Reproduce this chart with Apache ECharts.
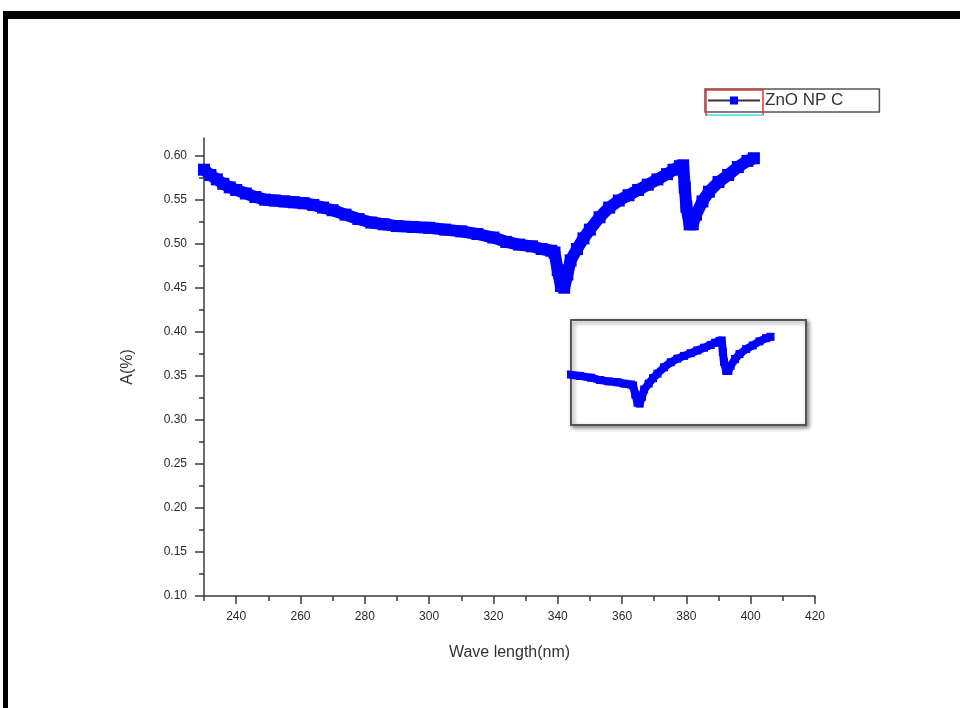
<!DOCTYPE html>
<html>
<head>
<meta charset="utf-8">
<script src="https://cdn.jsdelivr.net/npm/echarts@6/dist/echarts.min.js"></script>
<style>
  html, body { margin: 0; padding: 0; background: #fff; }
  #chart { width: 960px; height: 708px; }
</style>
</head>
<body>
<div id="chart"></div>
<script>
// wave length (nm) and absorbance
var wavelength = [230, 232, 234, 236, 238, 240, 243, 246, 249, 252, 255, 258, 261, 264, 267, 270,
  274, 278, 282, 286, 290, 295, 300, 305, 310, 315, 320, 324, 328, 332, 335, 338, 339, 340, 341, 342,
  343, 344, 346, 348, 350, 353, 356, 359, 362, 365, 368, 371, 374, 376, 378, 379, 379.5, 380, 381,
  382, 383, 385, 387, 390, 393, 396, 399, 401];
var absorbance = [0.584, 0.578, 0.573, 0.568, 0.564, 0.561, 0.557, 0.553, 0.550, 0.549, 0.548, 0.547,
  0.546, 0.544, 0.541, 0.538, 0.533, 0.528, 0.524, 0.522, 0.520, 0.519, 0.518, 0.516, 0.514, 0.511,
  0.507, 0.502, 0.499, 0.497, 0.494, 0.492, 0.490, 0.470, 0.452, 0.450, 0.465, 0.481, 0.494, 0.506,
  0.516, 0.530, 0.541, 0.549, 0.555, 0.561, 0.567, 0.573, 0.579, 0.584, 0.588, 0.589, 0.564, 0.542,
  0.522, 0.522, 0.533, 0.548, 0.559, 0.570, 0.578, 0.587, 0.594, 0.597];

var xMajorTicks = [240, 260, 280, 300, 320, 340, 360, 380, 400, 420];
var xMinorTicks = [230, 250, 270, 290, 310, 330, 350, 370, 390, 410];
var yMajorTicks = [0.10, 0.15, 0.20, 0.25, 0.30, 0.35, 0.40, 0.45, 0.50, 0.55, 0.60];
var yMinorTicks = [0.125, 0.175, 0.225, 0.275, 0.325, 0.375, 0.425, 0.475, 0.525, 0.575];

var points = wavelength.map(function (w, i) { return [w, absorbance[i]]; });

var axisColor = '#3a3a3a';
var fontFam = 'Liberation Sans, Arial, sans-serif';
var labelFont = { color: '#2a2a2a', fontSize: 12, fontFamily: fontFam };

var myChart = echarts.init(document.getElementById('chart'));
var option = {
  backgroundColor: '#fff',
  animation: false,
  grid: [
    { left: 204, top: 138, width: 611, height: 458 },
    // inset
    {
      left: 571, top: 320, width: 235, height: 105,
      show: true, backgroundColor: '#fff',
      borderColor: '#555', borderWidth: 2,
      shadowColor: 'rgba(0,0,0,0.45)', shadowBlur: 4, shadowOffsetX: 2, shadowOffsetY: 2
    }
  ],
  legend: {
    left: 705, top: 89,
    data: ['ZnO NP C'],
    itemWidth: 52, itemHeight: 10, itemGap: 4,
    padding: [3, 36, 3, 2],
    borderColor: '#555', borderWidth: 1.5,
    backgroundColor: '#fff',
    textStyle: { color: '#333', fontSize: 17, fontFamily: fontFam },
    itemStyle: { color: '#0000ff' },
    lineStyle: { color: '#333', width: 2 }
  },
  xAxis: [
    {
      type: 'value', gridIndex: 0, min: 230, max: 420,
      name: 'Wave length(nm)', nameLocation: 'middle', nameGap: 49,
      nameTextStyle: { color: '#333', fontSize: 16, fontFamily: fontFam },
      axisLine: { show: true, onZero: false, lineStyle: { color: axisColor, width: 1.5 } },
      axisTick: { show: true, customValues: xMajorTicks, length: 8, lineStyle: { color: axisColor, width: 1.5 } },
      axisLabel: Object.assign({ customValues: xMajorTicks, margin: 15 }, labelFont),
      splitLine: { show: false }
    },
    {
      // minor ticks
      type: 'value', gridIndex: 0, min: 230, max: 420, position: 'bottom',
      axisLine: { show: false },
      axisTick: { show: true, customValues: xMinorTicks, length: 5, lineStyle: { color: axisColor, width: 1.5 } },
      axisLabel: { show: false },
      splitLine: { show: false }
    },
    {
      type: 'value', gridIndex: 1, min: 311, max: 417, show: false
    }
  ],
  yAxis: [
    {
      type: 'value', gridIndex: 0, min: 0.10, max: 0.62,
      name: 'A(%)', nameLocation: 'middle', nameGap: 68,
      nameTextStyle: { color: '#333', fontSize: 16, fontFamily: fontFam },
      axisLine: { show: true, onZero: false, lineStyle: { color: axisColor, width: 1.5 } },
      axisTick: { show: true, customValues: yMajorTicks, length: 9, lineStyle: { color: axisColor, width: 1.5 } },
      axisLabel: Object.assign({
        customValues: yMajorTicks, margin: 17,
        formatter: function (v) { return v.toFixed(2); }
      }, labelFont),
      splitLine: { show: false }
    },
    {
      // minor ticks
      type: 'value', gridIndex: 0, min: 0.10, max: 0.62, position: 'left',
      axisLine: { show: false },
      axisTick: { show: true, customValues: yMinorTicks, length: 5, lineStyle: { color: axisColor, width: 1.5 } },
      axisLabel: { show: false },
      splitLine: { show: false }
    },
    {
      type: 'value', gridIndex: 1, min: 0.403, max: 0.634, show: false
    }
  ],
  series: [
    {
      name: 'ZnO NP C',
      type: 'line',
      xAxisIndex: 0, yAxisIndex: 0,
      data: points,
      color: '#0000ff',
      symbol: 'rect', symbolSize: 12, showSymbol: true,
      lineStyle: { color: '#0000ff', width: 12 },
      itemStyle: { color: '#0000ff' }
    },
    {
      name: 'inset',
      type: 'line',
      xAxisIndex: 2, yAxisIndex: 2,
      data: points,
      clip: true,
      symbol: 'rect', symbolSize: 8, showSymbol: true,
      lineStyle: { color: '#0000ff', width: 8 },
      itemStyle: { color: '#0000ff' }
    }
  ],
  graphic: [
    // black page frame
    { type: 'rect', shape: { x: 3, y: 11, width: 957, height: 8 }, style: { fill: '#000' }, silent: true },
    { type: 'rect', shape: { x: 3, y: 11, width: 5, height: 697 }, style: { fill: '#000' }, silent: true },
    // red box and cyan underline around the legend symbol
    { type: 'rect', shape: { x: 706, y: 90, width: 57, height: 25 }, style: { fill: null, stroke: '#f03030', lineWidth: 1.5 }, z: 100, silent: true },
    { type: 'line', shape: { x1: 707, y1: 115, x2: 763, y2: 115 }, style: { stroke: '#6ee8ee', lineWidth: 2 }, z: 101, silent: true }
  ]
};
myChart.setOption(option);
</script>
</body>
</html>
